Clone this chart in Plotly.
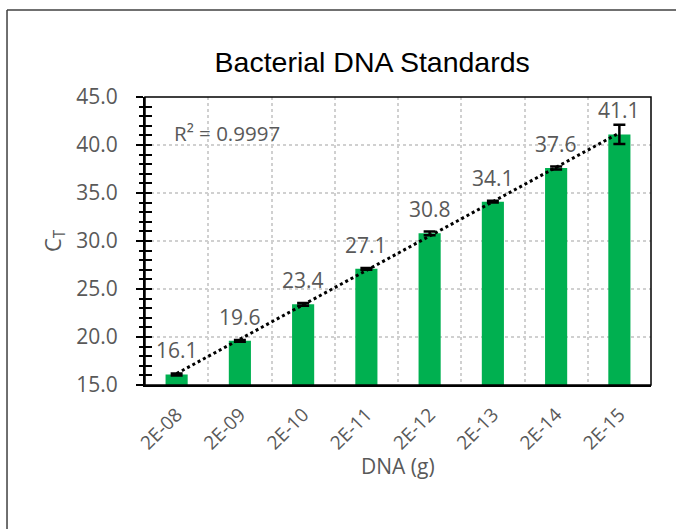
import numpy as np
import plotly.graph_objects as go

# ---- data ----
dna_labels = ["2E-08", "2E-09", "2E-10", "2E-11", "2E-12", "2E-13", "2E-14", "2E-15"]
ct_values = [16.1, 19.6, 23.4, 27.1, 30.8, 34.1, 37.6, 41.1]
ct_errors = [0.1, 0.1, 0.15, 0.1, 0.2, 0.1, 0.15, 1.0]
r2_text = "R² = 0.9997"

x = list(range(1, len(dna_labels) + 1))

GREEN = "#00B050"
GRAY = "#595959"
FONT = "Open Sans"

fig = go.Figure()

fig.add_trace(go.Bar(
    x=x, y=ct_values, width=0.35, marker=dict(color=GREEN, line=dict(width=0)),
    error_y=dict(type="data", array=ct_errors, visible=True, color="black",
                 thickness=2.5, width=6),
    showlegend=False, hoverinfo="skip",
))

# linear trendline (least squares fit of the data)
slope, intercept = np.polyfit(x, ct_values, 1)
trend_x = [x[0], x[-1]]
trend_y = [slope * v + intercept for v in trend_x]
fig.add_trace(go.Scatter(
    x=trend_x, y=trend_y, mode="lines",
    line=dict(color="black", width=3, dash="dot"),
    showlegend=False, hoverinfo="skip",
))

# invisible trace for overlay axis (crossing ticks)
fig.add_trace(go.Scatter(x=[x[0]], y=[ct_values[0]], yaxis="y2", mode="markers",
                         marker=dict(opacity=0), showlegend=False, hoverinfo="skip"))

annotations = []
for xi, yi in zip(x, ct_values):
    annotations.append(dict(x=xi, y=yi, xref="x", yref="y", text=f"{yi:.1f}",
                            showarrow=False, yshift=24, yanchor="middle",
                            font=dict(family=FONT, size=21, color=GRAY)))

annotations.append(dict(x=0.053, y=0.875, xref="paper", yref="paper", text=r2_text,
                        showarrow=False, xanchor="left", yanchor="middle",
                        font=dict(family=FONT, size=20.5, color=GRAY)))
annotations.append(dict(x=0.5, y=-0.282, xref="paper", yref="paper", text="DNA (g)",
                        showarrow=False, xanchor="center", yanchor="middle",
                        font=dict(family=FONT, size=21, color=GRAY)))
annotations.append(dict(x=-0.18, y=0.503, xref="paper", yref="paper", text="C<sub>T</sub>",
                        showarrow=False, xanchor="center", yanchor="middle", textangle=-90,
                        font=dict(family=FONT, size=22, color=GRAY)))

fig.update_layout(
    width=676, height=529,
    margin=dict(l=145, r=25, t=97, b=144),
    paper_bgcolor="white", plot_bgcolor="white",
    title=dict(text="Bacterial DNA Standards", xref="paper", x=0.449, xanchor="center",
               yref="container", y=0.883, yanchor="middle",
               font=dict(family="Liberation Sans", size=28.5, color="black")),
    xaxis=dict(
        range=[0.5, len(x) + 0.5], tickvals=x, ticktext=dna_labels, tickangle=-45,
        tickfont=dict(family=FONT, size=19, color=GRAY), ticks="", ticklabelstandoff=9,
        showline=True, linecolor="black", linewidth=2, showgrid=False, zeroline=False,
        minor=dict(tickvals=[v + 0.5 for v in x[:-1]], showgrid=True,
                   gridcolor="#d0d0d0", griddash="dot", gridwidth=1.5, ticks=""),
    ),
    yaxis=dict(
        range=[15, 45], dtick=5, tick0=15, tickformat=".1f",
        tickfont=dict(family=FONT, size=21, color=GRAY), ticklabelstandoff=14,
        ticks="outside", ticklen=7, tickwidth=2, tickcolor="black",
        showline=True, linecolor="black", linewidth=2,
        showgrid=True, gridcolor="#d0d0d0", griddash="dot", gridwidth=1.5, zeroline=False,
        minor=dict(dtick=1, ticks="outside", ticklen=4, tickwidth=2, tickcolor="black",
                   showgrid=False),
    ),
    yaxis2=dict(
        overlaying="y", side="left", range=[15, 45], dtick=5, tick0=15,
        ticks="inside", ticklen=7, tickwidth=2, tickcolor="black",
        showticklabels=False, showgrid=False, showline=False, zeroline=False,
        minor=dict(dtick=1, ticks="inside", ticklen=7, tickwidth=2, tickcolor="black",
                   showgrid=False),
    ),
    annotations=annotations,
    shapes=[
        dict(type="rect", xref="paper", yref="paper", x0=0, x1=1, y0=0, y1=1,
             line=dict(color="black", width=1.5), layer="above"),
        dict(type="line", xref="paper", yref="paper", x0=-0.2727, x1=-0.2727,
             y0=-0.7, y1=1.302, line=dict(color="#404040", width=1.5), layer="below"),
        dict(type="line", xref="paper", yref="paper", x0=-0.2727, x1=1.25,
             y0=1.302, y1=1.302, line=dict(color="#404040", width=1.5), layer="below"),
    ],
)

fig.write_html("out.html", config={"displayModeBar": False},
               post_script="document.body.style.margin='0';document.body.style.overflow='hidden';")
